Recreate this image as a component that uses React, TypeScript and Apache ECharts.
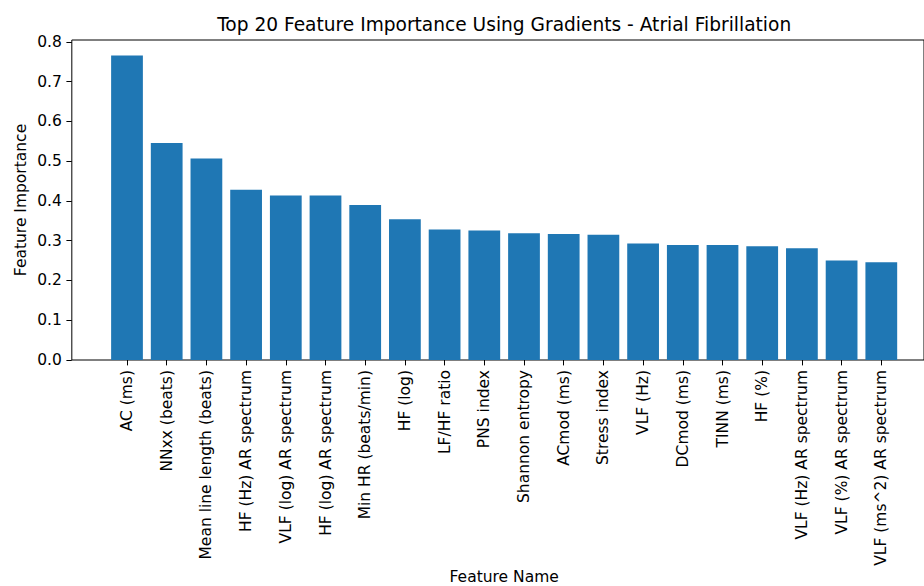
import React, { useEffect, useRef } from "react";
import * as echarts from "echarts";

const categories: string[] = [
  "AC (ms)",
  "NNxx (beats)",
  "Mean line length (beats)",
  "HF (Hz) AR spectrum",
  "VLF (log) AR spectrum",
  "HF (log) AR spectrum",
  "Min HR (beats/min)",
  "HF (log)",
  "LF/HF ratio",
  "PNS index",
  "Shannon entropy",
  "ACmod (ms)",
  "Stress index",
  "VLF (Hz)",
  "DCmod (ms)",
  "TINN (ms)",
  "HF (%)",
  "VLF (Hz) AR spectrum",
  "VLF (%) AR spectrum",
  "VLF (ms^2) AR spectrum",
];

const importance: number[] = [
  0.766, 0.546, 0.507, 0.428, 0.414, 0.414, 0.39, 0.354, 0.328, 0.326,
  0.319, 0.317, 0.315, 0.293, 0.289, 0.289, 0.286, 0.281, 0.25, 0.246,
];

const yTicks: number[] = [0, 0.1, 0.2, 0.3, 0.4, 0.5, 0.6, 0.7, 0.8];

const titleText = "Top 20 Feature Importance Using Gradients - Atrial Fibrillation";
const xName = "Feature Name";
const yName = "Feature Importance";

export default function App() {
  const ref = useRef<HTMLDivElement>(null);

  useEffect(() => {
    document.body.style.margin = "0";
    if (!ref.current) return;
    const chart = echarts.init(ref.current, undefined, { renderer: "svg" });
    const font = "DejaVu Sans";
    const labelSize = 15.5;
    const titleSize = 18.6;
    const step = 39.7;
    const firstTick = 127;
    const frameLeft = firstTick - 1.39 * step;
    const frameWidth = 21.78 * step;
    const barsLeft = firstTick - step / 2;
    const barsWidth = 20 * step;
    const frameTop = 40;
    const frameBottom = 360;
    const frameH = frameBottom - frameTop;
    const ymaxFrame = 0.8 * 1.00625;
    const barsH = (0.8 / ymaxFrame) * frameH;
    const cx = frameLeft + frameWidth / 2;

    chart.setOption({
      animation: false,
      backgroundColor: "#ffffff",
      grid: [
        {
          left: frameLeft,
          top: frameTop,
          width: frameWidth,
          height: frameH,
          show: true,
          borderColor: "#000",
          borderWidth: 1,
          backgroundColor: "transparent",
        },
        {
          left: barsLeft,
          top: frameBottom - barsH,
          width: barsWidth,
          height: barsH,
        },
      ],
      xAxis: [
        { type: "value", gridIndex: 0, min: 0, max: 1, show: false },
        {
          type: "category",
          gridIndex: 1,
          data: categories,
          boundaryGap: true,
          axisLine: { show: false },
          axisTick: {
            show: true,
            alignWithLabel: true,
            length: 5.4,
            lineStyle: { color: "#000", width: 1 },
          },
          axisLabel: {
            rotate: 90,
            interval: 0,
            margin: 10,
            color: "#000",
            fontFamily: font,
            fontSize: labelSize,
          },
          splitLine: { show: false },
        },
      ],
      yAxis: [
        { type: "value", gridIndex: 0, min: 0, max: 1, show: false },
        {
          type: "value",
          gridIndex: 1,
          min: yTicks[0],
          max: yTicks[yTicks.length - 1],
          interval: 0.1,
          offset: barsLeft - frameLeft,
          axisLine: { show: false },
          axisTick: {
            show: true,
            length: 5.4,
            lineStyle: { color: "#000", width: 1 },
          },
          axisLabel: {
            margin: 10,
            color: "#000",
            fontFamily: font,
            fontSize: labelSize,
            formatter: (v: number) => v.toFixed(1),
          },
          splitLine: { show: false },
        },
      ],
      series: [
        {
          type: "bar",
          xAxisIndex: 1,
          yAxisIndex: 1,
          data: importance,
          barWidth: "80%",
          itemStyle: { color: "#1f77b4" },
        },
      ],
      graphic: [
        {
          type: "text",
          x: cx,
          y: 34,
          style: {
            text: titleText,
            fill: "#000",
            font: `${titleSize}px "${font}"`,
            textAlign: "center",
            textVerticalAlign: "bottom",
          },
        },
        {
          type: "text",
          x: cx,
          y: 585,
          style: {
            text: xName,
            fill: "#000",
            font: `${labelSize}px "${font}"`,
            textAlign: "center",
            textVerticalAlign: "bottom",
          },
        },
        {
          type: "text",
          x: 21,
          y: (frameTop + frameBottom) / 2,
          rotation: Math.PI / 2,
          style: {
            text: yName,
            fill: "#000",
            font: `${labelSize}px "${font}"`,
            textAlign: "center",
            textVerticalAlign: "middle",
          },
        },
      ],
    });
    return () => chart.dispose();
  }, []);

  return <div ref={ref} style={{ width: 924, height: 586 }} />;
}
